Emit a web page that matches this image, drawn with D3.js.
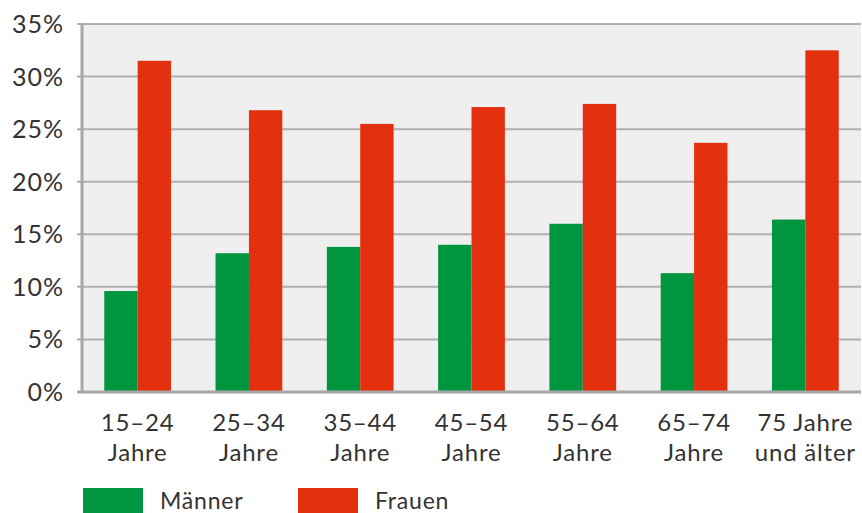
<!DOCTYPE html>
<html><head><meta charset="utf-8">
<script src="https://cdn.jsdelivr.net/npm/d3@7"></script>
<style>body{margin:0;background:#fff}svg{display:block}text{font-family:Lato,sans-serif;fill:#333}</style>
</head><body><svg id="c" width="862" height="513"></svg>
<script>
const categories = ["15–24|Jahre","25–34|Jahre","35–44|Jahre","45–54|Jahre","55–64|Jahre","65–74|Jahre","75 Jahre|und älter"];
const maenner = [9.6, 13.2, 13.8, 14.0, 16.0, 11.3, 16.4];
const frauen = [31.5, 26.8, 25.5, 27.1, 27.4, 23.7, 32.5];
const yTicks = [0,5,10,15,20,25,30,35];
const seriesNames = ["Männer","Frauen"];
const colors = ["#00953f","#e3300e"];

const svg = d3.select("#c");
const L=82, R=861, T=24, B=392;
const x = d3.scaleBand().domain(categories).range([L,R]).paddingInner(0.4).paddingOuter(0.2);
const xs = d3.scaleBand().domain([0,1]).range([0,x.bandwidth()]);
const y = d3.scaleLinear().domain([0,35]).range([B,T]);

svg.append("rect").attr("x",L).attr("y",T).attr("width",R-L).attr("height",B-T).attr("fill","#efefef");
svg.append("g").selectAll("line").data(yTicks.filter(d=>d>0)).join("line")
  .attr("x1",L-5).attr("x2",R).attr("y1",d=>y(d)).attr("y2",d=>y(d))
  .attr("stroke","#b0b0b0").attr("stroke-width",2);
const data=[maenner,frauen];
data.forEach((s,i)=>{
  svg.append("g").selectAll("rect").data(s).join("rect")
    .attr("x",(d,j)=>x(categories[j])+xs(i)).attr("width",xs.bandwidth())
    .attr("y",d=>y(d)).attr("height",d=>B-y(d)).attr("fill",colors[i]);
});
svg.append("line").attr("x1",L).attr("x2",L).attr("y1",T-1).attr("y2",B+1).attr("stroke","#a8a8a8").attr("stroke-width",3);
svg.append("line").attr("x1",L-5).attr("x2",R).attr("y1",B).attr("y2",B).attr("stroke","#a8a8a8").attr("stroke-width",3);
svg.append("g").selectAll("text").data(yTicks).join("text")
  .attr("x",64).attr("y",d=>y(d)+9).attr("text-anchor","end").attr("font-size",25)
  .attr("letter-spacing",1).text(d=>d+"%");
const xl = svg.append("g").selectAll("text").data(categories).join("text")
  .attr("text-anchor","middle").attr("font-size",24).attr("letter-spacing",0.8)
  .attr("transform",d=>`translate(${x(d)+x.bandwidth()/2},0)`);
xl.each(function(d){
  const parts=d.split("|");
  d3.select(this).selectAll("tspan").data(parts).join("tspan")
    .attr("x",0).attr("y",(p,k)=>431+k*29.5).text(p=>p);
});
const lx=[83,298];
seriesNames.forEach((n,i)=>{
  svg.append("rect").attr("x",lx[i]).attr("y",488).attr("width",60).attr("height",30).attr("fill",colors[i]);
  svg.append("text").attr("x",lx[i]+77).attr("y",509).attr("font-size",23).attr("letter-spacing",0.8).text(n);
});
</script></body></html>
